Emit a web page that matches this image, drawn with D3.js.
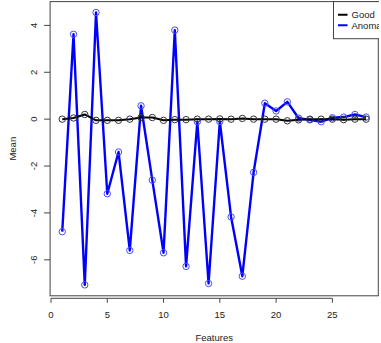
<!DOCTYPE html>
<html>
<head>
<meta charset="utf-8">
<script src="https://cdn.jsdelivr.net/npm/d3@7"></script>
<style>
  html, body { margin: 0; padding: 0; background: #fff; }
  svg { display: block; }
  text { font-family: "Liberation Sans", Arial, sans-serif; fill: #222; }
</style>
</head>
<body>
<svg id="chart" width="381" height="343"></svg>
<script>
const features = [1,2,3,4,5,6,7,8,9,10,11,12,13,14,15,16,17,18,19,20,21,22,23,24,25,26,27,28];
const good = [0, 0.05, 0.2, -0.05, -0.05, -0.05, 0.0, 0.07, 0.07, -0.05, -0.02, -0.02, 0, 0,
              0.01, 0, 0.03, 0, 0, 0, -0.07, -0.03, 0, 0, 0, -0.02, 0, 0];
const anomaly = [-4.80, 3.62, -7.07, 4.55, -3.18, -1.40, -5.60, 0.57, -2.60, -5.70, 3.80, -6.28, -0.11, -7.01,
                 -0.10, -4.17, -6.70, -2.27, 0.68, 0.35, 0.74, 0.04, -0.03, -0.11, 0.06, 0.09, 0.20, 0.09];
const xTicks = [0, 5, 10, 15, 20, 25];
const yTicks = [-6, -4, -2, 0, 2, 4];
const seriesNames = ["Good", "Anomaly"];
const seriesColors = ["#000000", "#0000ff"];

const svg = d3.select("#chart");
const plot = {left: 50.1, right: 378.3, top: 1.6, bottom: 295.8};

const xExt = d3.extent(features);
const xPad = (xExt[1] - xExt[0]) * 0.04;
const x = d3.scaleLinear().domain([xExt[0] - xPad, xExt[1] + xPad]).range([plot.left, plot.right]);
const yExt = d3.extent(good.concat(anomaly));
const yPad = (yExt[1] - yExt[0]) * 0.04;
const y = d3.scaleLinear().domain([yExt[0] - yPad, yExt[1] + yPad]).range([plot.bottom, plot.top]);

// clip
svg.append("defs").append("clipPath").attr("id", "clip")
  .append("rect").attr("x", plot.left).attr("y", plot.top - 1)
  .attr("width", 379 - plot.left).attr("height", plot.bottom - plot.top + 2);

// series
const line = d3.line().x((d, i) => x(features[i])).y(d => y(d));
const g = svg.append("g").attr("clip-path", "url(#clip)");

function drawSeries(vals, color, lw, ptColor) {
  g.append("path").datum(vals).attr("d", line)
    .attr("fill", "none").attr("stroke", color).attr("stroke-width", lw)
    .attr("stroke-linejoin", "round");
  g.selectAll(null).data(vals).enter().append("circle")
    .attr("cx", (d, i) => x(features[i])).attr("cy", d => y(d)).attr("r", 3.2)
    .attr("fill", "none").attr("stroke", ptColor).attr("stroke-width", 1);
}
drawSeries(anomaly, seriesColors[1], 2.4, "#4a4aff");
drawSeries(good, seriesColors[0], 2, "#333");

// box
svg.append("rect").attr("x", plot.left).attr("y", plot.top)
  .attr("width", plot.right - plot.left).attr("height", plot.bottom - plot.top)
  .attr("fill", "none").attr("stroke", "#444").attr("stroke-width", 1);

// x axis (slightly below box)
const xAxisY = 298.3;
const xa = svg.append("g").attr("transform", `translate(0,${xAxisY})`);
xa.append("line").attr("x1", x(xTicks[0])).attr("x2", x(xTicks[xTicks.length - 1]))
  .attr("y1", 0).attr("y2", 0).attr("stroke", "#444");
xTicks.forEach(t => {
  xa.append("line").attr("x1", x(t)).attr("x2", x(t)).attr("y1", 0).attr("y2", 4.5).attr("stroke", "#444");
  xa.append("text").attr("x", x(t)).attr("y", 16.4).attr("text-anchor", "middle")
    .attr("dominant-baseline", "central").attr("font-size", 9.5).text(t);
});

// y axis
const ya = svg.append("g");
yTicks.forEach(t => {
  ya.append("line").attr("x1", plot.left - 6).attr("x2", plot.left).attr("y1", y(t)).attr("y2", y(t)).attr("stroke", "#444");
  ya.append("text").attr("transform", `translate(33.5,${y(t)}) rotate(-90)`)
    .attr("text-anchor", "middle").attr("dominant-baseline", "central").attr("font-size", 9.5).text(t);
});

// axis titles
svg.append("text").attr("x", (plot.left + plot.right) / 2).attr("y", 337.3)
  .attr("text-anchor", "middle").attr("dominant-baseline", "central").attr("font-size", 9.5).text("Features");
svg.append("text").attr("transform", `translate(12,${(plot.top + plot.bottom) / 2}) rotate(-90)`)
  .attr("text-anchor", "middle").attr("dominant-baseline", "central").attr("font-size", 9.5).text("Mean");

// legend (clipped to plot region like R)
const lg = svg.append("g").attr("clip-path", "url(#clip)");
lg.append("rect").attr("x", 333.5).attr("y", plot.top).attr("width", 70).attr("height", 38.7 - plot.top)
  .attr("fill", "#fff").attr("stroke", "#444").attr("stroke-width", 1);
seriesNames.forEach((name, i) => {
  const ly = 14.7 + i * 10.6;
  lg.append("line").attr("x1", 338).attr("x2", 347.5).attr("y1", ly).attr("y2", ly)
    .attr("stroke", seriesColors[i]).attr("stroke-width", 2);
  lg.append("text").attr("x", 351.5).attr("y", ly).attr("dominant-baseline", "central")
    .attr("font-size", 9.5).text(name);
});
</script>
</body>
</html>
